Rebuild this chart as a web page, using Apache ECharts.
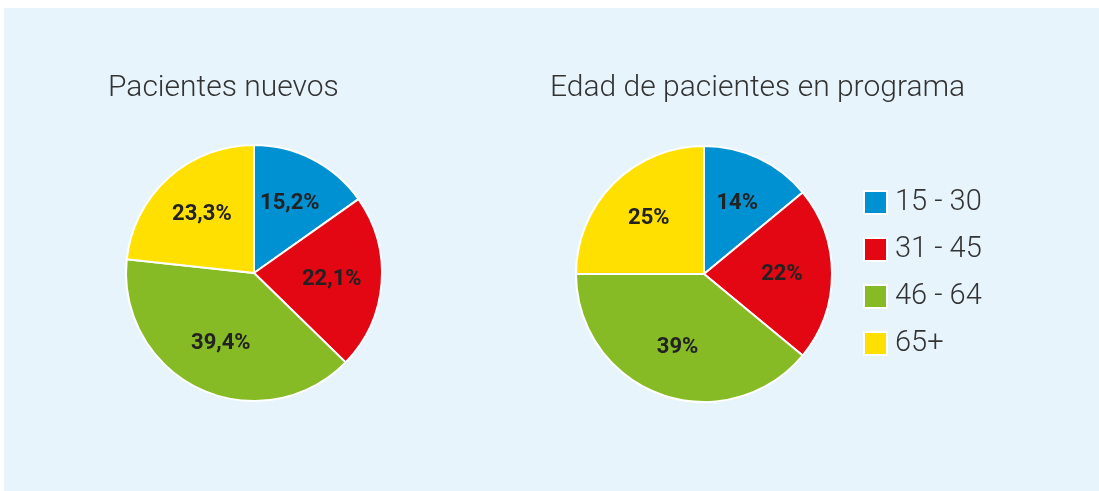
<!DOCTYPE html>
<html lang="es">
<head>
    <meta charset="UTF-8">
    <title>Pacientes</title>
    <script src="https://cdn.jsdelivr.net/npm/echarts@6/dist/echarts.min.js"></script>
    <style>
        body {margin: 0; background: #fff;}
        #main {position: absolute; left: 4px; top: 8px; width: 1095px; height: 483px; background: #e7f4fc;}
    </style>
</head>
<body>
<div id="main"></div>
<script>
    var grupos = ['15 - 30', '31 - 45', '46 - 64', '65+'];
    var colores = ['#0091d3', '#e30613', '#86bb26', '#ffe000'];
    var nuevos = [15.2, 22.1, 39.4, 23.3];       // Pacientes nuevos (%)
    var programa = [14, 22, 39, 25];             // Edad de pacientes en programa (%)

    function datos(valores) {
        var d = [];
        for (var i = 0; i < grupos.length; i++) {
            d.push({name: grupos[i], value: valores[i]});
        }
        return d;
    }
    function etiqueta(p) {
        return String(p.value).replace('.', ',') + '%';
    }

    // pie with colours and white borders
    function tarta(valores, centro) {
        return {
            type: 'pie',
            radius: [0, 128],
            center: centro,
            startAngle: 90,
            color: colores,
            label: {show: false},
            labelLine: {show: false},
            emphasis: {disabled: true},
            itemStyle: {borderColor: '#fff', borderWidth: 2},
            data: datos(valores)
        };
    }
    // transparent ring only used to place the labels a bit further out
    function etiquetas(valores, centro) {
        return {
            type: 'pie',
            radius: [22, 128],
            center: centro,
            startAngle: 90,
            silent: true,
            itemStyle: {color: 'transparent', borderWidth: 0},
            label: {
                show: true,
                position: 'inside',
                formatter: etiqueta,
                fontFamily: 'Roboto',
                fontWeight: 'bold',
                fontSize: 22,
                color: '#222'
            },
            labelLine: {show: false},
            emphasis: {disabled: true},
            data: datos(valores)
        };
    }

    var myChart = echarts.init(document.getElementById('main'));
    var option = {
        animation: false,
        textStyle: {fontFamily: 'Roboto'},
        title: [
            {text: 'Pacientes nuevos', left: 104, top: 65, padding: 0,
                textStyle: {fontSize: 30, fontWeight: 300, color: '#333'}},
            {text: 'Edad de pacientes en programa', left: 546, top: 65, padding: 0,
                textStyle: {fontSize: 30, fontWeight: 300, color: '#333'}}
        ],
        legend: {
            orient: 'vertical',
            left: 859,
            top: 180,
            padding: 0,
            itemWidth: 23,
            itemHeight: 23,
            itemGap: 18,
            icon: 'rect',
            data: grupos,
            selectedMode: false,
            textStyle: {fontSize: 29, fontWeight: 300, color: '#333', padding: [0, 0, 0, 3]}
        },
        series: [
            tarta(nuevos, [250, 265]),
            tarta(programa, [700, 266]),
            etiquetas(nuevos, [250, 265]),
            etiquetas(programa, [700, 266])
        ]
    };
    myChart.setOption(option);
</script>
</body>
</html>
